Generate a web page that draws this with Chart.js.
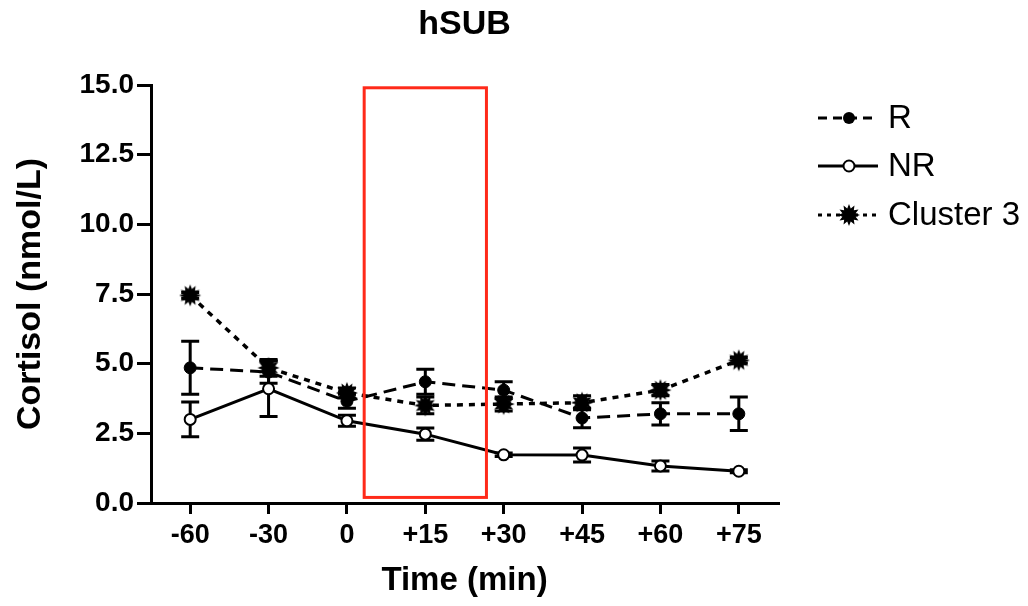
<!DOCTYPE html>
<html>
<head>
<meta charset="utf-8">
<script src="https://cdn.jsdelivr.net/npm/chart.js@4"></script>
<style>
  html, body { margin: 0; padding: 0; background: #fff; }
  #wrap { width: 1028px; height: 606px; }
</style>
</head>
<body>
<div id="wrap"><canvas id="myChart" width="1028" height="606"></canvas></div>
<script>
// data
const times = ['-60', '-30', '0', '+15', '+30', '+45', '+60', '+75'];
const rMean = [4.85, 4.7, 3.65, 4.35, 4.05, 3.05, 3.2, 3.2];
const rErr = [0.95, 0.4, 0.25, 0.45, 0.3, 0.35, 0.4, 0.6];
const nrMean = [3.0, 4.1, 2.95, 2.47, 1.73, 1.72, 1.33, 1.14];
const nrErr = [0.62, 1.0, 0.2, 0.22, 0.06, 0.25, 0.18, 0.05];
const c3Mean = [7.45, 4.85, 3.95, 3.5, 3.55, 3.6, 4.05, 5.12];
const c3Err = [0.1, 0.3, 0.18, 0.3, 0.25, 0.25, 0.2, 0.1];
const yTicks = [0, 2.5, 5, 7.5, 10, 12.5, 15];

// red highlight box, in axis units (category index / nmol/L)
const boxX = [2.22, 3.78];
const boxY = [0.2, 14.9];

const fontFam = "'Liberation Sans', Arial, Helvetica, sans-serif";
Chart.defaults.font.family = fontFam;
Chart.defaults.color = '#000';

// starburst marker for cluster 3
function makeStar(r) {
  const c = document.createElement('canvas');
  c.width = c.height = r * 2 + 2;
  const g = c.getContext('2d');
  g.fillStyle = '#000';
  g.beginPath();
  const n = 12;
  for (let i = 0; i < n * 2; i++) {
    const rad = i % 2 === 0 ? r : r * 0.62;
    const a = Math.PI * i / n;
    g.lineTo(r + 1 + rad * Math.cos(a), r + 1 + rad * Math.sin(a));
  }
  g.closePath();
  g.fill();
  return c;
}
const star = makeStar(11);

const errors = [rErr, nrErr, c3Err];

// error bars behind the lines
const errorBars = {
  id: 'errorBars',
  beforeDatasetsDraw(chart) {
    const ctx = chart.ctx;
    const x = chart.scales.x, y = chart.scales.y;
    ctx.save();
    ctx.strokeStyle = '#000';
    ctx.lineWidth = 3;
    chart.data.datasets.forEach((ds, di) => {
      ds.data.forEach((v, i) => {
        const e = errors[di][i];
        const px = x.getPixelForValue(i);
        const top = y.getPixelForValue(v + e);
        const bot = y.getPixelForValue(v - e);
        ctx.beginPath();
        ctx.moveTo(px, top); ctx.lineTo(px, bot);
        ctx.moveTo(px - 9, top); ctx.lineTo(px + 9, top);
        ctx.moveTo(px - 9, bot); ctx.lineTo(px + 9, bot);
        ctx.stroke();
      });
    });
    ctx.restore();
  }
};

const redBox = {
  id: 'redBox',
  afterDatasetsDraw(chart) {
    const ctx = chart.ctx;
    const x = chart.scales.x, y = chart.scales.y;
    const l = x.getPixelForValue(boxX[0]), r = x.getPixelForValue(boxX[1]);
    const t = y.getPixelForValue(boxY[1]), b = y.getPixelForValue(boxY[0]);
    ctx.save();
    ctx.strokeStyle = '#ff2a1a';
    ctx.lineWidth = 3;
    ctx.strokeRect(l, t, r - l, b - t);
    ctx.restore();
  }
};

// title centred over the plot area, legend drawn by hand at the right
const extras = {
  id: 'extras',
  afterDraw(chart) {
    const ctx = chart.ctx;
    const area = chart.chartArea;
    ctx.save();
    ctx.fillStyle = '#000';
    ctx.font = 'bold 34px ' + fontFam;
    ctx.textAlign = 'center';
    ctx.textBaseline = 'middle';
    ctx.fillText('hSUB', (area.left + area.right) / 2, 25);
    ctx.textAlign = 'left';

    const rows = [
      { label: 'R', y: 118, dash: [9, 6], marker: 'dot' },
      { label: 'NR', y: 166, dash: [], marker: 'open' },
      { label: 'Cluster 3', y: 215, dash: [4, 5], marker: 'star' }
    ];
    rows.forEach(row => {
      ctx.strokeStyle = '#000';
      ctx.lineWidth = 3;
      ctx.setLineDash(row.dash);
      ctx.beginPath();
      ctx.moveTo(818, row.y); ctx.lineTo(878, row.y);
      ctx.stroke();
      ctx.setLineDash([]);
      if (row.marker === 'dot') {
        ctx.fillStyle = '#000';
        ctx.beginPath(); ctx.arc(849, row.y, 6, 0, Math.PI * 2); ctx.fill();
      } else if (row.marker === 'open') {
        ctx.fillStyle = '#fff';
        ctx.lineWidth = 2;
        ctx.beginPath(); ctx.arc(849, row.y, 5.5, 0, Math.PI * 2); ctx.fill(); ctx.stroke();
      } else {
        ctx.drawImage(star, 849 - star.width / 2, row.y - star.height / 2);
      }
      ctx.fillStyle = '#000';
      ctx.font = '33px ' + fontFam;
      ctx.fillText(row.label, 888, row.y + 1);
    });
    ctx.restore();
  }
};

const ctx = document.getElementById('myChart').getContext('2d');
const myChart = new Chart(ctx, {
  type: 'line',
  data: {
    labels: times,
    datasets: [
      {
        label: 'R',
        data: rMean,
        borderColor: '#000',
        borderWidth: 3,
        borderDash: [13, 7],
        pointStyle: 'circle',
        pointRadius: 6,
        pointBackgroundColor: '#000',
        pointBorderColor: '#000',
        pointBorderWidth: 1
      },
      {
        label: 'NR',
        data: nrMean,
        borderColor: '#000',
        borderWidth: 3,
        pointStyle: 'circle',
        pointRadius: 5.5,
        pointBackgroundColor: '#fff',
        pointBorderColor: '#000',
        pointBorderWidth: 2
      },
      {
        label: 'Cluster 3',
        data: c3Mean,
        borderColor: '#000',
        borderWidth: 3.5,
        borderDash: [6, 6],
        pointStyle: star
      }
    ]
  },
  options: {
    responsive: false,
    animation: false,
    clip: false,
    layout: { padding: { left: 0, right: 250, top: 85, bottom: 0 } },
    elements: { line: { tension: 0 } },
    plugins: {
      legend: { display: false },
      tooltip: { enabled: false },
      title: { display: false }
    },
    scales: {
      x: {
        offset: true,
        grid: { display: true, drawOnChartArea: false, drawTicks: true, tickLength: 11, lineWidth: 3, color: '#000', offset: false },
        border: { display: true, width: 3, color: '#000' },
        ticks: { color: '#000', font: { size: 27, weight: 'bold' }, padding: 5, maxRotation: 0 },
        title: { display: true, text: 'Time (min)', color: '#000', font: { size: 33, weight: 'bold' }, padding: { top: 4, bottom: 5 } },
        afterFit: (scale) => { scale.height = 103; }
      },
      y: {
        min: 0,
        max: 15,
        afterBuildTicks: (scale) => { scale.ticks = yTicks.map(v => ({ value: v })); },
        grid: { display: true, drawOnChartArea: false, drawTicks: true, tickLength: 14, lineWidth: 3, color: '#000' },
        border: { display: true, width: 3, color: '#000' },
        ticks: {
          color: '#000',
          font: { size: 28, weight: 'bold' },
          padding: 3,
          callback: (value) => Number(value).toFixed(1)
        },
        title: { display: true, text: 'Cortisol (nmol/L)', color: '#000', font: { size: 34, weight: 'bold' }, padding: { top: 10, bottom: 4 } },
        afterFit: (scale) => { scale.width = 151; }
      }
    }
  },
  plugins: [errorBars, redBox, extras]
});
</script>
</body>
</html>
